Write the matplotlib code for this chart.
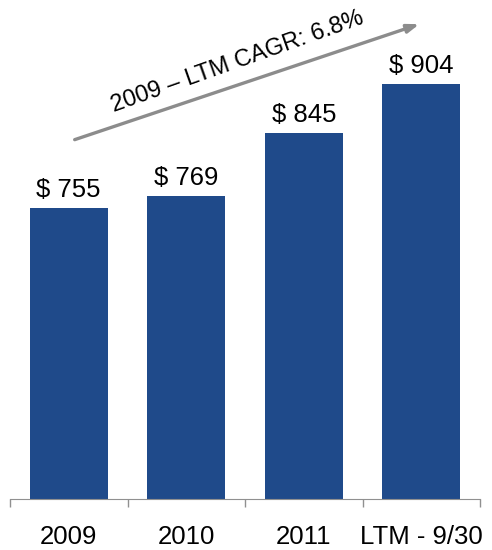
import matplotlib
matplotlib.use("Agg")
import matplotlib.pyplot as plt
import numpy as np

# revenue by period ($ millions)
periods = ["2009", "2010", "2011", "LTM - 9/30"]
revenue = [755, 769, 845, 904]
value_labels = ["$ 755", "$ 769", "$ 845", "$ 904"]
cagr_text = "2009 \u2013 LTM CAGR: 6.8%"

plt.rcParams['font.family'] = ['Liberation Sans', 'DejaVu Sans']

fig = plt.figure(figsize=(4.92, 5.5), dpi=100)
ax = fig.add_axes([10/492, 51/550, 470/492, 499/550])

X = np.arange(len(periods))
ax.bar(X, revenue, width=0.66, color="#1f4a8a", zorder=2)
for x, v, lab in zip(X, revenue, value_labels):
    ax.text(x, v + 7, lab, ha="center", va="bottom", fontsize=18.5, color="black")

ax.set_xlim(-0.5, 3.5)
ax.set_ylim(405, 1005)

# category ticks sit between bars
ax.set_xticks(X)
ax.set_xticklabels(periods, fontsize=18.5)
ax.set_xticks(np.arange(-0.5, 4.0, 1.0), minor=True)
ax.tick_params(axis="x", which="major", length=0, pad=19)
ax.tick_params(axis="x", which="minor", length=6, color="#909090", width=1)
ax.set_yticks([])
for s in ["top", "right", "left"]:
    ax.spines[s].set_visible(False)
ax.spines["bottom"].set_color("#909090")

# growth arrow
ax.annotate("", xy=(3.006, 977), xytext=(0.028, 836),
            arrowprops=dict(arrowstyle="-|>,head_length=0.7,head_width=0.25",
                            color="#8c8c8c", lw=2.4))
ax.text(1.44, 931, cagr_text, rotation=19.5, ha="center", va="center",
        fontsize=17, color="black", rotation_mode="anchor")

fig.savefig("out.png", dpi=100)
